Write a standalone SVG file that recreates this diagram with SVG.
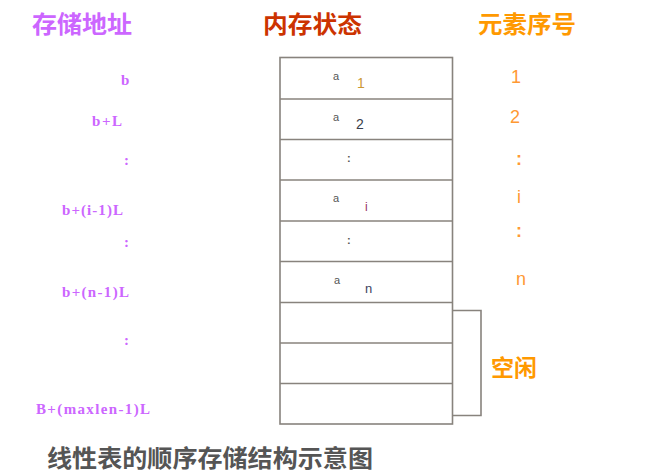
<svg xmlns="http://www.w3.org/2000/svg" width="672" height="473" viewBox="0 0 672 473">
<style>
.hdr{font-family:"Noto Sans CJK SC",sans-serif;font-weight:bold;font-size:24px}
.addr{font-family:"Liberation Serif",serif;font-weight:bold;font-size:15px;fill:#CC66FF}
.cell{fill:none;stroke:#88837d;stroke-width:1.6}
.a{font-family:"Liberation Sans",sans-serif;font-size:11px;fill:#555}
.sub{font-family:"Liberation Sans",sans-serif;font-size:14px}
.num{font-family:"Liberation Sans",sans-serif;font-size:18px;fill:#FF9933}
</style>
<rect width="672" height="473" fill="#fff"/>
<g id="headers">
<text class="hdr" x="32" y="33" fill="#CC66FF" textLength="100" lengthAdjust="spacingAndGlyphs">存储地址</text>
<text class="hdr" x="263" y="33" fill="#CC3300" textLength="99" lengthAdjust="spacingAndGlyphs">内存状态</text>
<text class="hdr" x="478" y="33" fill="#FF9900" textLength="98" lengthAdjust="spacingAndGlyphs">元素序号</text>
</g>
<g id="addresses">
<text class="addr" x="121" y="85">b</text>
<text class="addr" x="92" y="126" textLength="30" lengthAdjust="spacing">b+L</text>
<text class="addr" x="124" y="165">:</text>
<text class="addr" x="62" y="215" textLength="61" lengthAdjust="spacing">b+(i-1)L</text>
<text class="addr" x="124" y="247">:</text>
<text class="addr" x="62" y="297" textLength="67" lengthAdjust="spacing">b+(n-1)L</text>
<text class="addr" x="124" y="345">:</text>
<text class="addr" x="36" y="414" textLength="114" lengthAdjust="spacing">B+(maxlen-1)L</text>
</g>
<g id="memory">
<rect class="cell" x="280" y="57.5" width="172.5" height="366.5"/>
<line class="cell" x1="280" y1="99" x2="452.5" y2="99"/>
<line class="cell" x1="280" y1="139.5" x2="452.5" y2="139.5"/>
<line class="cell" x1="280" y1="180" x2="452.5" y2="180"/>
<line class="cell" x1="280" y1="221" x2="452.5" y2="221"/>
<line class="cell" x1="280" y1="261.5" x2="452.5" y2="261.5"/>
<line class="cell" x1="280" y1="302.5" x2="452.5" y2="302.5"/>
<line class="cell" x1="280" y1="343" x2="452.5" y2="343"/>
<line class="cell" x1="280" y1="383.5" x2="452.5" y2="383.5"/>
<text class="a" x="333" y="80">a</text>
<text class="sub" x="357" y="88" fill="#CC9933">1</text>
<text class="a" x="333" y="121">a</text>
<text class="sub" x="356" y="129" fill="#3a3d4a">2</text>
<text class="a" x="347" y="162" style="font-weight:bold">:</text>
<text class="a" x="333" y="202">a</text>
<text class="sub" x="365" y="211" fill="#993366" style="font-size:12px">i</text>
<text class="a" x="347" y="244" style="font-weight:bold">:</text>
<text class="a" x="334" y="284">a</text>
<text class="sub" x="365" y="293" fill="#3d4460" style="font-size:13px">n</text>
</g>
<g id="indices">
<text class="num" x="511" y="83">1</text>
<text class="num" x="510" y="123">2</text>
<text class="num" x="516" y="165" style="font-weight:bold">:</text>
<text class="num" x="517" y="203">i</text>
<text class="num" x="516" y="237" style="font-weight:bold">:</text>
<text class="num" x="516" y="285">n</text>
</g>
<g id="connectors">
<polyline class="cell" points="452.5,310.5 481,310.5 481,415.5 452.5,415.5"/>
</g>
<g id="free">
<text class="hdr" x="491" y="376" fill="#FF9900" style="font-size:23px">空闲</text>
</g>
<g id="caption">
<text class="hdr" x="47" y="467" fill="#555" textLength="326" lengthAdjust="spacingAndGlyphs">线性表的顺序存储结构示意图</text>
</g>
</svg>
